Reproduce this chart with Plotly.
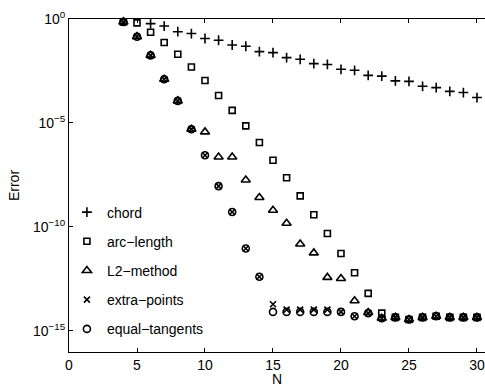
import plotly.graph_objects as go

# Convergence of the interpolation error for each parameterisation
n_chord = list(range(6, 31))
err_chord = [0.60, 0.457, 0.245, 0.20, 0.115, 0.095, 0.056, 0.049, 0.027, 0.024,
             0.0138, 0.0115, 7.1e-3, 6.5e-3, 3.8e-3, 3.4e-3, 1.95e-3, 1.78e-3,
             1.05e-3, 1.0e-3, 5.8e-4, 5.0e-4, 3.3e-4, 2.9e-4, 1.66e-4]

n_all = list(range(4, 31))
err_arc = [0.724, 0.65, 0.23, 0.074, 0.020, 4.9e-3, 1.1e-3, 2.1e-4, 4.0e-5,
           7.2e-6, 1.15e-6, 1.6e-7, 2.3e-8, 3.1e-9, 3.8e-10, 4.8e-11, 5.2e-12,
           6.2e-13, 6.3e-14, 7.1e-15, 4.4e-15, 3.5e-15, 4.4e-15, 5.0e-15,
           4.4e-15, 4.4e-15, 4.4e-15]
err_l2 = [0.724, 0.141, 0.0178, 1.26e-3, 1.15e-4, 5.0e-6, 3.7e-6, 2.3e-7,
          2.3e-7, 1.8e-8, 2.6e-9, 6.3e-10, 1.5e-10, 1.5e-11, 5.6e-12, 3.7e-13,
          3.3e-13, 2.8e-14, 7.6e-15, 4.0e-15, 4.4e-15, 3.5e-15, 4.4e-15,
          5.0e-15, 4.4e-15, 4.4e-15, 4.4e-15]
err_extra = [0.724, 0.141, 0.0178, 1.26e-3, 1.15e-4, 5.0e-6, 2.8e-7, 9.1e-9,
             5.2e-10, 9.1e-12, 4.0e-13, 1.9e-14, 1.05e-14, 1.05e-14, 1.05e-14,
             1.05e-14, 8.1e-15, 5.0e-15, 7.1e-15, 4.0e-15, 4.4e-15, 3.5e-15,
             4.4e-15, 5.0e-15, 4.4e-15, 4.4e-15, 4.4e-15]
err_equal = [0.724, 0.141, 0.0178, 1.26e-3, 1.15e-4, 5.0e-6, 2.8e-7, 9.1e-9,
             5.2e-10, 9.1e-12, 4.0e-13, 8.1e-15, 8.1e-15, 8.1e-15, 8.1e-15,
             8.1e-15, 8.1e-15, 5.0e-15, 7.1e-15, 4.0e-15, 4.4e-15, 3.5e-15,
             4.4e-15, 5.0e-15, 4.4e-15, 4.4e-15, 4.4e-15]

y_tickvals = [1, 1e-5, 1e-10, 1e-15]
y_ticktext = ["10<sup>0</sup>", "10<sup>\u22125</sup>",
              "10<sup>\u221210</sup>", "10<sup>\u221215</sup>"]
x_tickvals = [0, 5, 10, 15, 20, 25, 30]

FONT = "Liberation Sans, Arial, Helvetica, sans-serif"

series = [
    ("chord", n_chord, err_chord, "cross-thin-open", 7),
    ("arc\u2212length", n_all, err_arc, "square-open", 6),
    ("L2\u2212method", n_all, err_l2, "triangle-up-open", 8),
    ("extra\u2212points", n_all, err_extra, "x-thin-open", 6),
    ("equal\u2212tangents", n_all, err_equal, "circle-open", 7),
]

fig = go.Figure()
for i, (name, xs, ys, sym, size) in enumerate(series):
    fig.add_trace(go.Scatter(
        x=xs, y=ys, mode="markers", name=name, legendgroup=f"g{i}",
        marker=dict(symbol=sym, size=size, color="black",
                    line=dict(color="black", width=1.6)),
        cliponaxis=False,
    ))

fig.update_layout(
    width=485, height=387,
    margin=dict(l=69, r=0, t=19, b=35),
    paper_bgcolor="white", plot_bgcolor="white",
    font=dict(family=FONT, size=14, color="black"),
    showlegend=True,
    legend=dict(x=-0.005, y=0.467, xanchor="left", yanchor="top",
                bgcolor="rgba(0,0,0,0)", borderwidth=0,
                font=dict(family=FONT, size=14, color="black"),
                tracegroupgap=8, itemsizing="trace"),
    xaxis=dict(range=[0, 30.59], tickvals=x_tickvals, ticks="inside",
               ticklen=4, tickcolor="black", showline=True, linecolor="black",
               linewidth=1, mirror="ticks", showgrid=False, zeroline=False,
               title=dict(text="N", standoff=0, font=dict(size=14))),
    yaxis=dict(type="log", range=[-16.02, 0], tickvals=y_tickvals,
               ticktext=y_ticktext, ticks="inside", ticklen=4,
               tickcolor="black", showline=True, linecolor="black",
               linewidth=1, mirror=False, showgrid=False, zeroline=False,
               title=dict(text="Error", standoff=10, font=dict(size=14))),
)

fig.write_html("out.html")
